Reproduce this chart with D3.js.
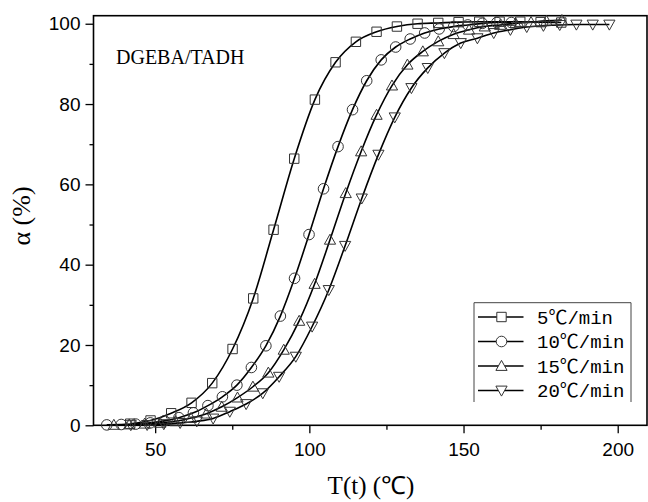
<!DOCTYPE html>
<html>
<head>
<meta charset="utf-8">
<script src="https://cdn.jsdelivr.net/npm/d3@7"></script>
<style>
  html, body { margin: 0; padding: 0; background: #fff; }
  svg { display: block; }
</style>
</head>
<body>
<svg id="chart" width="648" height="502"></svg>
<script>
// Conversion α (%) vs temperature for DGEBA/TADH at four heating rates
const seriesNames = ["5℃/min", "10℃/min", "15℃/min", "20℃/min"];
const markerKinds = ["square", "circle", "triangleUp", "triangleDown"];

const temp5 = [41.9, 48.5, 55.2, 61.8, 68.5, 75.1, 81.8, 88.4, 95.1, 101.8, 108.5, 115.1, 121.8, 128.4, 135.1, 141.8, 148.4, 155.1, 161.7, 168.4, 175.0, 181.7];
const alpha5 = [0.4, 1.2, 3.0, 5.6, 10.5, 19.0, 31.6, 48.7, 66.4, 81.1, 90.4, 95.5, 98.0, 99.3, 100.0, 100.2, 100.4, 100.5, 100.5, 100.5, 100.4, 100.3];

const temp10 = [34.3, 39.0, 43.7, 48.4, 53.0, 57.7, 62.4, 67.1, 71.8, 76.5, 81.2, 85.9, 90.6, 95.2, 99.9, 104.6, 109.3, 114.0, 118.6, 123.3, 128.0, 132.7, 137.4, 142.1, 146.8, 151.4, 156.1, 160.8, 165.5];
const alpha10 = [0.1, 0.2, 0.3, 0.6, 1.1, 1.9, 3.1, 4.9, 7.1, 10.0, 14.4, 19.8, 27.2, 36.6, 47.5, 58.9, 69.4, 78.6, 85.8, 91.0, 94.2, 96.2, 97.7, 98.7, 99.3, 99.7, 100.1, 100.3, 100.3];

const temp15 = [36.6, 41.6, 46.6, 51.6, 56.6, 61.6, 66.6, 71.6, 76.7, 81.7, 86.7, 91.7, 96.7, 101.7, 106.7, 111.8, 116.8, 121.8, 126.8, 131.8, 136.8, 141.8, 146.8, 151.8, 156.9, 161.9, 166.9, 171.9, 176.9, 181.9];
const alpha15 = [0.1, 0.2, 0.4, 0.6, 1.0, 1.8, 2.9, 4.6, 6.9, 9.6, 13.1, 18.8, 26.0, 35.2, 46.2, 57.8, 68.2, 77.3, 84.6, 89.8, 93.1, 95.6, 97.4, 98.5, 99.3, 99.7, 100.1, 100.4, 100.7, 100.9];

const temp20 = [42.1, 47.4, 52.8, 58.1, 63.5, 68.8, 74.2, 79.5, 84.9, 90.2, 95.6, 100.9, 106.3, 111.6, 117.0, 122.4, 127.7, 133.1, 138.4, 143.8, 149.1, 154.5, 159.8, 165.2, 170.5, 175.9, 181.2, 186.6, 191.9, 197.3];
const alpha20 = [0.05, 0.1, 0.3, 0.6, 1.0, 1.7, 3.4, 5.3, 8.0, 12.1, 17.1, 24.6, 33.7, 44.7, 56.5, 67.4, 76.7, 84.0, 89.0, 92.7, 95.2, 96.4, 97.7, 98.5, 99.2, 99.5, 99.7, 99.8, 99.8, 99.8];

const xTicks = [50, 100, 150, 200];
const xMinorTicks = [75, 125, 175];
const yTicks = [0, 20, 40, 60, 80, 100];
const yMinorTicks = [10, 30, 50, 70, 90];

const title = "DGEBA/TADH";
const xTitle = "T(t) (℃)";
const yTitle = "α (%)";

const temps = [temp5, temp10, temp15, temp20];
const alphas = [alpha5, alpha10, alpha15, alpha20];
const series = seriesNames.map((name, i) => ({
  name,
  kind: markerKinds[i],
  points: temps[i].map((t, j) => ({ t, a: alphas[i][j] }))
}));

const svg = d3.select("#chart");
const plot = { left: 93.5, right: 647, top: 15.7, bottom: 425.3 };

const x = d3.scaleLinear().domain([30, 209.5]).range([plot.left, plot.right]);
const y = d3.scaleLinear().domain([0, 102]).range([plot.bottom, plot.top]);

// marker shapes drawn as open outlines
function markerPath(kind) {
  if (kind === "square") return "M-4.7,-4.7H4.7V4.7H-4.7Z";
  if (kind === "circle") return "M5.3,0A5.3,5.3 0 1 1 -5.3,0A5.3,5.3 0 1 1 5.3,0Z";
  if (kind === "triangleUp") return "M0,-5.6L5.6,4.4H-5.6Z";
  return "M0,5.6L5.6,-4.4H-5.6Z";
}

// axes
const tickFont = "'Liberation Sans', Arial, sans-serif";

svg.append("g")
  .attr("transform", `translate(${plot.left},0)`)
  .call(d3.axisLeft(y).tickValues(yTicks).tickSize(8).tickSizeOuter(0).tickPadding(5));
svg.append("g")
  .attr("transform", `translate(${plot.left},0)`)
  .call(d3.axisLeft(y).tickValues(yMinorTicks).tickSize(4).tickSizeOuter(0).tickFormat(""));

svg.append("g")
  .attr("transform", `translate(0,${plot.bottom})`)
  .call(d3.axisBottom(x).tickValues(xTicks).tickSize(8).tickSizeOuter(0).tickPadding(9));
svg.append("g")
  .attr("transform", `translate(0,${plot.bottom})`)
  .call(d3.axisBottom(x).tickValues(xMinorTicks).tickSize(4.5).tickSizeOuter(0).tickFormat(""));

svg.selectAll(".domain").remove();
svg.selectAll(".tick line").attr("stroke", "#000").attr("stroke-width", 1.3);
svg.selectAll(".tick text")
  .attr("font-family", tickFont)
  .attr("font-size", 19)
  .attr("fill", "#000");

// plot frame
svg.append("rect")
  .attr("x", plot.left)
  .attr("y", plot.top)
  .attr("width", plot.right - plot.left)
  .attr("height", plot.bottom - plot.top)
  .attr("fill", "none")
  .attr("stroke", "#000")
  .attr("stroke-width", 1.6);

// curves
const line = d3.line()
  .x(d => x(d.t))
  .y(d => y(d.a))
  .curve(d3.curveMonotoneX);

svg.append("g").selectAll("path")
  .data(series)
  .join("path")
  .attr("d", d => line(d.points))
  .attr("fill", "none")
  .attr("stroke", "#000")
  .attr("stroke-width", 1.6);

// markers
const markerGroups = svg.append("g").selectAll("g")
  .data(series)
  .join("g");
markerGroups.selectAll("path")
  .data(d => d.points.map(p => ({ ...p, kind: d.kind })))
  .join("path")
  .attr("transform", d => `translate(${x(d.t)},${y(d.a)})`)
  .attr("d", d => markerPath(d.kind))
  .attr("fill", "none")
  .attr("stroke", "#333")
  .attr("stroke-width", 1);

// inset label
svg.append("text")
  .attr("x", 116)
  .attr("y", 64)
  .attr("font-family", "'Liberation Serif', 'Times New Roman', serif")
  .attr("font-size", 20)
  .attr("fill", "#000")
  .text(title);

// axis titles
svg.append("text")
  .attr("x", 371)
  .attr("y", 494)
  .attr("text-anchor", "middle")
  .attr("font-family", "'Liberation Serif', 'Times New Roman', serif")
  .attr("font-size", 25)
  .attr("fill", "#000")
  .text(xTitle);

svg.append("text")
  .attr("transform", "translate(30,216) rotate(-90)")
  .attr("text-anchor", "middle")
  .attr("font-family", "'Liberation Serif', 'Times New Roman', serif")
  .attr("font-size", 26)
  .attr("fill", "#000")
  .text(yTitle);

// legend (open at the bottom)
const legend = { left: 474, top: 302.7, right: 631, bottom: 402, rowStart: 317, rowStep: 24.5 };
svg.append("path")
  .attr("d", `M${legend.left},${legend.bottom}V${legend.top}H${legend.right}V${legend.bottom}`)
  .attr("fill", "none")
  .attr("stroke", "#444")
  .attr("stroke-width", 1);

const rows = svg.append("g").selectAll("g")
  .data(series)
  .join("g")
  .attr("transform", (d, i) => `translate(0,${legend.rowStart + i * legend.rowStep})`);
rows.append("line")
  .attr("x1", 478).attr("x2", 523.5)
  .attr("y1", 0).attr("y2", 0)
  .attr("stroke", "#000")
  .attr("stroke-width", 1.6);
rows.append("path")
  .attr("transform", "translate(501.5,0)")
  .attr("d", d => markerPath(d.kind))
  .attr("fill", "#fff")
  .attr("stroke", "#333")
  .attr("stroke-width", 1);
rows.append("text")
  .attr("x", 537)
  .attr("y", 6.5)
  .attr("font-family", "'Liberation Mono', 'Courier New', 'Noto Sans CJK SC', monospace")
  .attr("font-size", 19)
  .attr("fill", "#000")
  .text(d => d.name);
</script>
</body>
</html>
